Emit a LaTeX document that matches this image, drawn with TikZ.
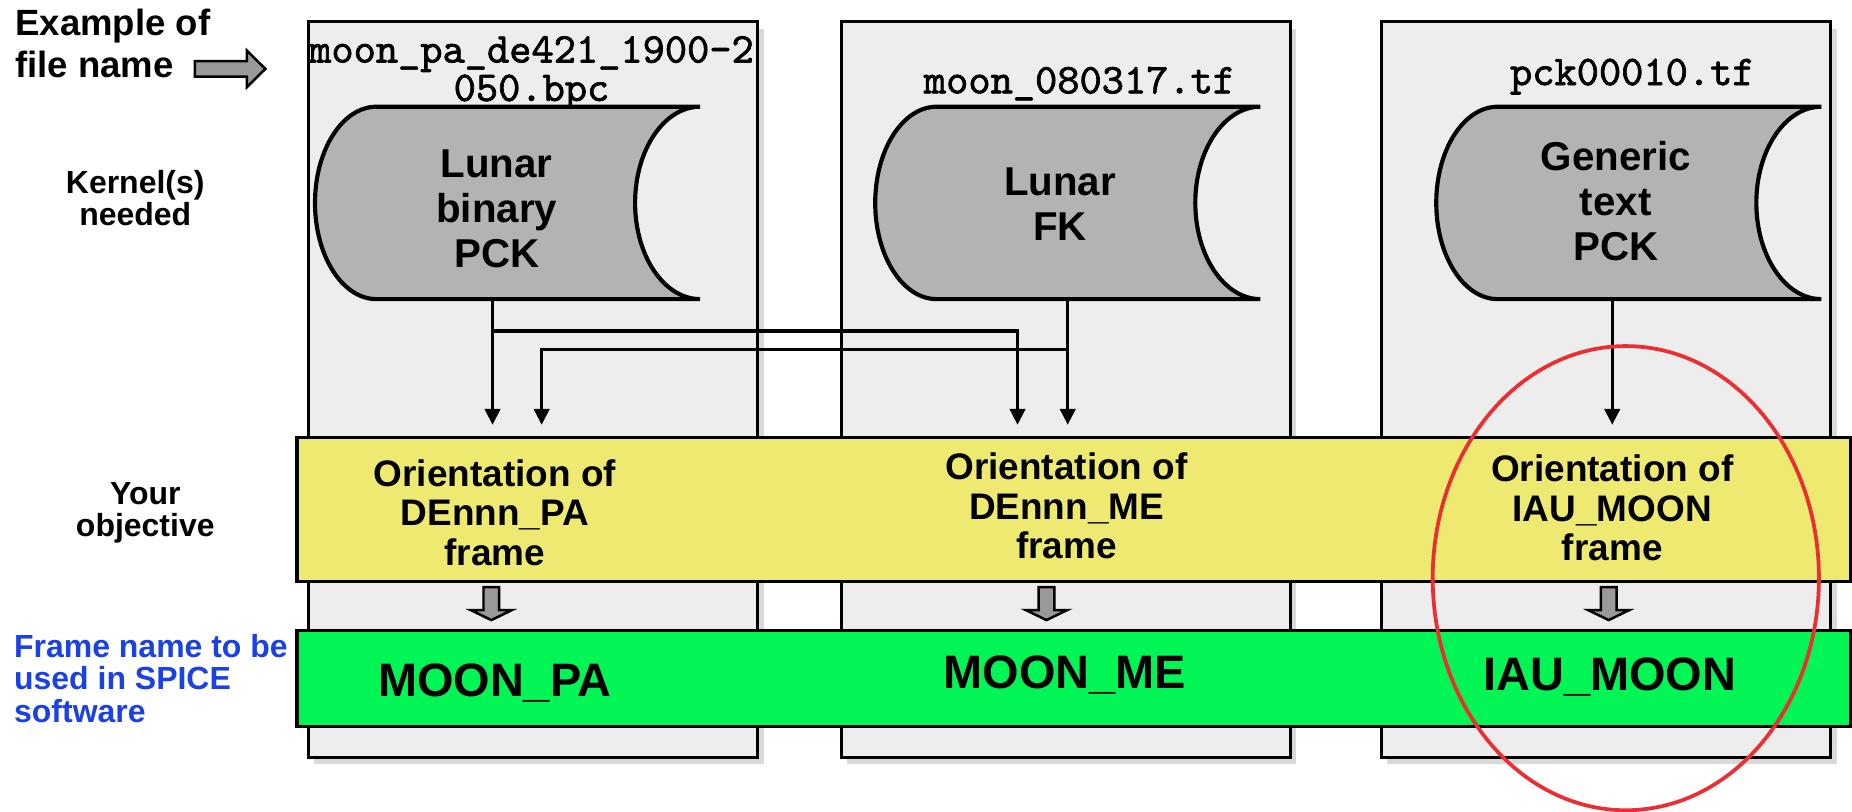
\documentclass[tikz,border=0pt]{standalone}
\usepackage{fontspec}
\setmainfont{Liberation Sans}
\newfontfamily\filefont{lmmono10-regular.otf}[FakeBold=1.6]
\usepackage{tikz}
\usetikzlibrary{arrows.meta,shadows,calc}
\definecolor{panelgray}{RGB}{237,237,237}
\definecolor{drumgray}{RGB}{179,179,179}
\definecolor{objyellow}{RGB}{238,234,113}
\definecolor{spicegreen}{RGB}{0,245,85}
\definecolor{labelblue}{RGB}{25,65,230}
\definecolor{ringred}{RGB}{236,45,50}
\tikzset{
  panel/.style={draw=black,line width=0.7pt,fill=panelgray,drop shadow={shadow xshift=0.5mm,shadow yshift=-0.6mm,opacity=0.3}},
  drumbox/.style={minimum width=32.6mm,minimum height=16.29mm,inner sep=0pt,outer sep=0pt},
  drumline/.style={draw=black,line width=1pt,fill=drumgray},
  kerneltext/.style={align=center,font=\fontsize{9.7}{10.8}\selectfont\bfseries,inner sep=0pt},
  filename/.style={align=center,font=\fontsize{10.2}{9.25}\selectfont\filefont,inner sep=0pt},
  band/.style={draw=black,line width=0.8pt,minimum width=131.5mm,inner sep=0pt},
  orient/.style={align=center,font=\fontsize{8.9}{9.5}\selectfont\bfseries,inner sep=0pt},
  spicename/.style={anchor=base,font=\fontsize{11.3}{12}\selectfont\bfseries,inner sep=0pt},
  rowlabel/.style={align=center,font=\fontsize{7.7}{7.7}\selectfont\bfseries,inner sep=0pt},
  feed/.style={line width=0.8pt,-{Triangle[length=1.35mm,width=1.3mm]},shorten >=0.93mm},
  greyarrow/.style={draw=black,line width=0.6pt,fill=black!40}
}
% storage drum drawn round an empty node
\newcommand{\kerneldrum}[1]{\draw[drumline] ([xshift=5.2mm]#1.north west) -- (#1.north east)
  arc[start angle=90,end angle=270,x radius=5.5mm,y radius=8.145mm] -- ([xshift=5.2mm]#1.south west)
  arc[start angle=270,end angle=90,x radius=5.2mm,y radius=8.145mm] -- cycle;}
% small block arrow pointing down, from top of its shaft
\newcommand{\fatdown}[1]{\draw[greyarrow] (#1) ++(-0.665,0) -- ++(1.33,0) -- ++(0,1.95) -- ++(1.085,0)
  -- ++(-1.75,0.85) -- ++(-1.75,-0.85) -- ++(1.085,0) -- cycle;}
\begin{document}
\begin{tikzpicture}[x=1mm,y=-1mm]
\useasboundingbox (0,0) rectangle (156.8,68.7);
\draw[panel] (26.1,1.83) rectangle (64.15,64.1); % binary PCK column
\draw[panel] (71.25,1.83) rectangle (109.23,64.1); % FK column
\draw[panel] (116.95,1.83) rectangle (155.0,64.1); % text PCK column

\node[anchor=west,align=left,inner sep=0pt,font=\fontsize{8.8}{10}\selectfont\bfseries] (examplelabel) at (1.23,3.68) {Example of\\file name};
\draw[greyarrow] (16.5,5.165) -- (20.9,5.165) -- (20.9,4.28) -- (22.47,5.83) -- (20.9,7.38) -- (20.9,6.495) -- (16.5,6.495) -- cycle; % pointer
\node[rowlabel] (kernellabel) at (11.45,16.75) {Kernel(s)\\needed};
\node[rowlabel] (objlabel) at (12.3,43.45) {Your\\objective};
\node[rowlabel,anchor=west,align=left,text=labelblue,font=\fontsize{7.7}{7.9}\selectfont\bfseries] (namelabel) at (1.13,57.45) {Frame name to be\\used in SPICE\\software};

\node[filename] (pckfile) at (45.0,6.2) {moon\_pa\_de421\_1900-2\\050.bpc};
\node[filename,anchor=base] (fkfile) at (91.4,7.9) {moon\_080317.tf};
\node[filename,anchor=base] (genfile) at (138.2,7.2) {pck00010.tf};

\node[drumbox] (lunarpck) at (42.97,17.18) {}; \kerneldrum{lunarpck}
\node[drumbox] (lunarfk) at (90.4,17.18) {}; \kerneldrum{lunarfk}
\node[drumbox] (genpck) at (137.9,17.18) {}; \kerneldrum{genpck}
\node[kerneltext] (pcktext) at (42.05,17.7) {Lunar\\binary\\PCK};
\node[kerneltext] (fktext) at (89.75,17.28) {Lunar\\FK};
\node[kerneltext] (gentext) at (136.8,17.0) {Generic\\text\\PCK};

\node[band,fill=objyellow,minimum height=12.17mm] (objband) at (90.9,43.12) {}; % objectives
\node[band,fill=spicegreen,minimum height=8.15mm] (framebar) at (90.9,57.43) {}; % frame names
\node[orient] (paorient) at (41.9,43.38) {Orientation of\\DEnnn\_PA\\frame};
\node[orient] (meorient) at (90.3,42.83) {Orientation of\\DEnnn\_ME\\frame};
\node[orient] (iauorient) at (136.5,43.02) {Orientation of\\IAU\_MOON\\frame};
\node[spicename] (paname) at (41.9,58.93) {MOON\_PA};
\node[spicename] (mename) at (90.15,58.26) {MOON\_ME};
\node[spicename] (iauname) at (136.3,58.5) {IAU\_MOON};

\coordinate (pcktap) at ([xshift=-1.27mm]lunarpck.south);
\coordinate (fktap) at (lunarfk.south);
\coordinate (gentap) at ([xshift=-1.4mm]genpck.south);
\draw[feed] (pcktap) -- (pcktap |- objband.north);
\draw[feed] (pcktap) ++(0,2.71) -| ([xshift=-4.25mm]fktap |- objband.north);
\draw[feed] (fktap) -- (fktap |- objband.north);
\draw[feed] (fktap) ++(0,4.26) -| ([xshift=4.16mm]pcktap |- objband.north);
\draw[feed] (gentap) -- (gentap |- objband.north);

\fatdown{41.6,49.7} \fatdown{88.6,49.7} \fatdown{136.2,49.7}
\draw[ringred,line width=0.9pt] (137.65,48.95) ellipse [x radius=16.35,y radius=19.65]; % highlight
\end{tikzpicture}
\end{document}
